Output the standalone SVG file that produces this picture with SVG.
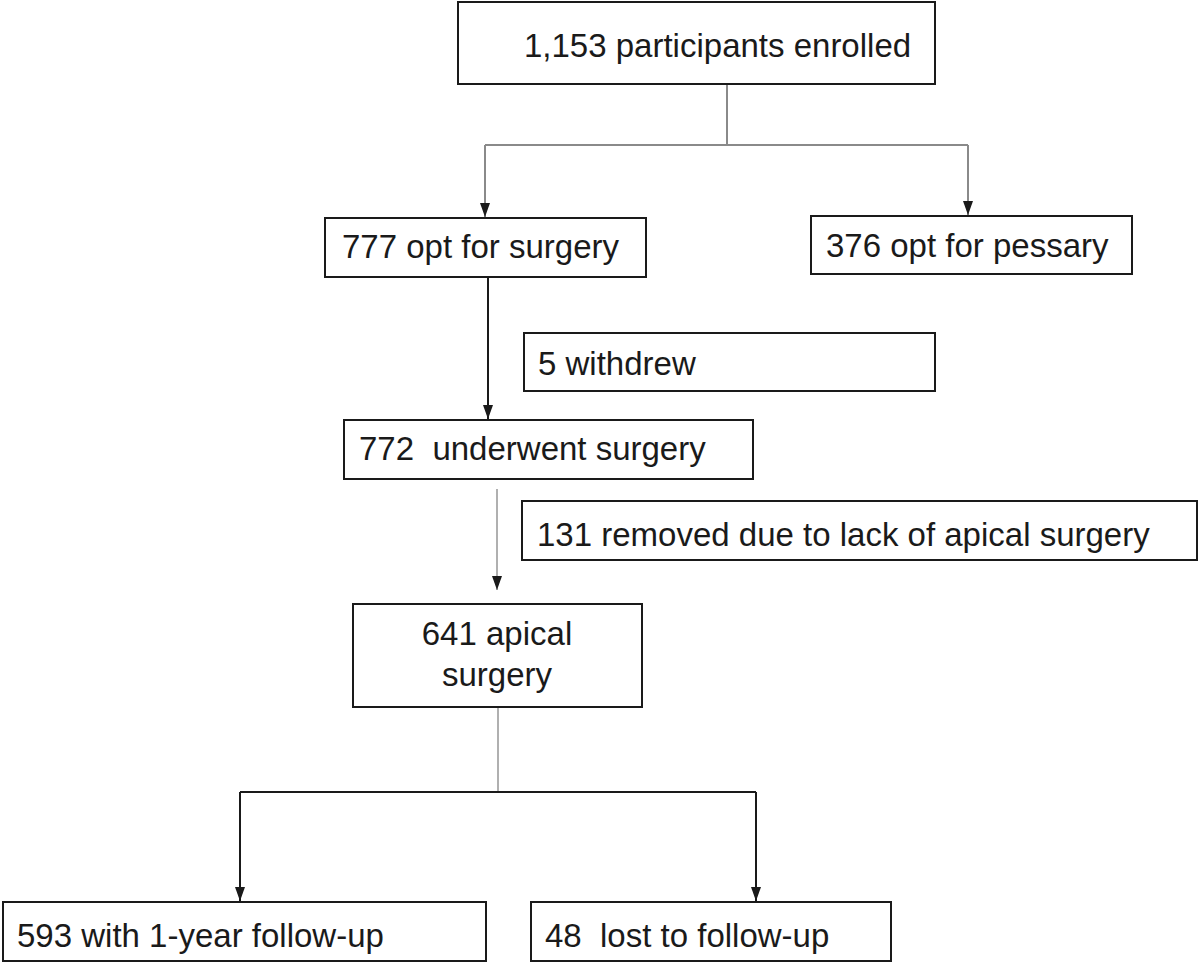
<svg xmlns="http://www.w3.org/2000/svg" width="1200" height="963" viewBox="0 0 1200 963">
<style>
.box{fill:#fff;stroke:#1a1a1a;stroke-width:2}
.t{font-family:"Liberation Sans",Arial,sans-serif;font-size:33px;fill:#1a1a1a}
.c{fill:none;stroke-width:2}
.dk{stroke:#1a1a1a}
.gr{stroke:#8a8a8a}
.lg{stroke:#b0b0b0}
</style>
<defs>
<marker id="ah" viewBox="0 0 14 10" refX="14" refY="5" markerWidth="14" markerHeight="10" markerUnits="userSpaceOnUse" orient="auto">
<path d="M0,0 L14,5 L0,10 Z" fill="#1a1a1a"/>
</marker>
</defs>
<g id="connectors">
<path class="c gr" d="M727,85 V145"/>
<path class="c gr" d="M485,145 H968"/>
<path class="c gr" d="M485,145 V217" marker-end="url(#ah)"/>
<path class="c gr" d="M968,145 V215" marker-end="url(#ah)"/>
<path class="c dk" d="M488,278 V419" marker-end="url(#ah)"/>
<path class="c lg" d="M497,489 V590" marker-end="url(#ah)"/>
<path class="c lg" d="M498,708 V792"/>
<path class="c dk" d="M240,792 H756"/>
<path class="c dk" d="M240,792 V901" marker-end="url(#ah)"/>
<path class="c dk" d="M756,792 V901" marker-end="url(#ah)"/>
</g>
<g id="n_enrolled">
<rect class="box" x="458" y="2" width="477" height="82"/>
<text class="t" x="524" y="57">1,153 participants enrolled</text>
</g>
<g id="n_surgery">
<rect class="box" x="325" y="218" width="321" height="59"/>
<text class="t" x="342" y="258">777 opt for surgery</text>
</g>
<g id="n_pessary">
<rect class="box" x="811" y="216" width="321" height="58"/>
<text class="t" x="826" y="257">376 opt for pessary</text>
</g>
<g id="n_withdrew">
<rect class="box" x="524" y="333" width="411" height="58"/>
<text class="t" x="538" y="375">5 withdrew</text>
</g>
<g id="n_underwent">
<rect class="box" x="344" y="420" width="409" height="59"/>
<text class="t" x="359" y="460" xml:space="preserve">772  underwent surgery</text>
</g>
<g id="n_removed">
<rect class="box" x="522" y="501" width="675" height="59"/>
<text class="t" x="537" y="546">131 removed due to lack of apical surgery</text>
</g>
<g id="n_apical">
<rect class="box" x="353" y="604" width="289" height="103"/>
<text class="t" x="497" y="645" text-anchor="middle">641 apical</text>
<text class="t" x="497" y="686" text-anchor="middle">surgery</text>
</g>
<g id="n_followup">
<rect class="box" x="3" y="902" width="483" height="59"/>
<text class="t" x="17" y="947">593 with 1-year follow-up</text>
</g>
<g id="n_lost">
<rect class="box" x="531" y="902" width="360" height="59"/>
<text class="t" x="545" y="947" xml:space="preserve">48  lost to follow-up</text>
</g>
</svg>
